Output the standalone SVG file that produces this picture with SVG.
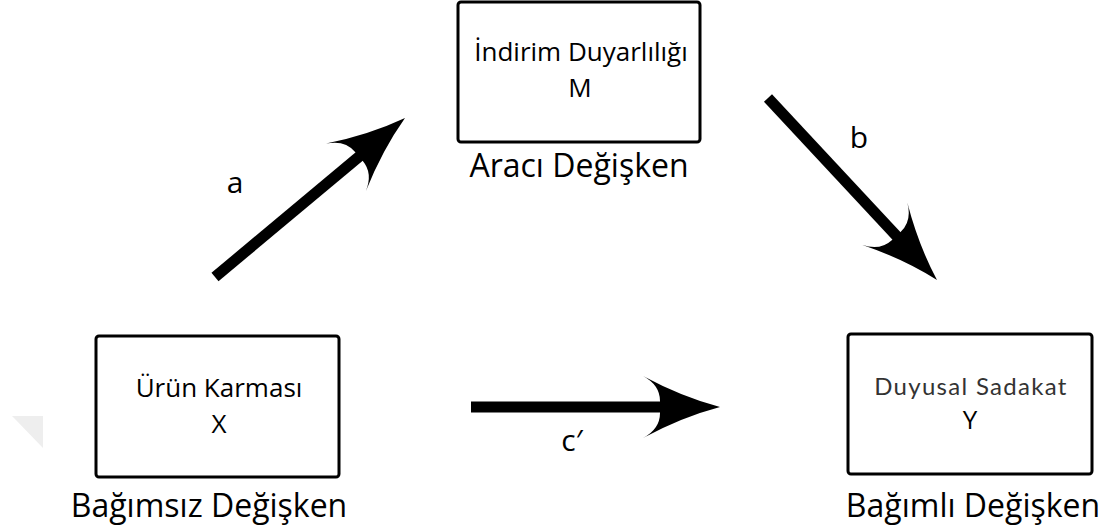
<svg xmlns="http://www.w3.org/2000/svg" width="1110" height="530" viewBox="0 0 1110 530">
  <style>
    .box { fill: #ffffff; stroke: #000000; stroke-width: 3; }
    .lbl { font-family: "Open Sans", "Noto Sans", "DejaVu Sans", sans-serif; fill: #000000; text-anchor: middle; }
    .inner { font-size: 26px; }
    .role { font-size: 32px; }
    .path-lbl { font-size: 30px; }
    .soft { font-family: Lato, "Noto Sans", sans-serif; font-size: 24px; fill: #333333; text-anchor: middle; letter-spacing: 1.3px; }
    .shaft { stroke: #000000; stroke-width: 11; fill: none; }
  </style>
  <defs>
    <!-- swept arrowhead, tip at origin pointing along +x -->
    <path id="head" d="M0,0 Q-38,-10 -77,-31 Q-60,-22 -60,-6 L-60,6 Q-60,22 -77,31 Q-38,10 0,0 Z" fill="#000000"/>
  </defs>

  <rect width="1110" height="530" fill="#ffffff"/>
  <polygon points="12,416 43,416 43,448" fill="#eeeeee"/>

  <g id="mediator">
    <rect class="box" x="458" y="2" width="242" height="140" rx="3"/>
    <text class="lbl inner" x="581" y="61">İndirim Duyarlılığı</text>
    <text class="lbl inner" x="580" y="97">M</text>
    <text class="lbl role" x="579" y="177">Aracı Değişken</text>
  </g>

  <g id="independent">
    <rect class="box" x="96" y="336" width="243" height="141" rx="3"/>
    <text class="lbl inner" x="219" y="397">Ürün Karması</text>
    <text class="lbl inner" x="219" y="433">X</text>
    <text class="lbl role" x="209" y="517">Bağımsız Değişken</text>
  </g>

  <g id="dependent">
    <rect class="box" x="848" y="334" width="244" height="140" rx="3"/>
    <text class="soft" x="971" y="395">Duyusal Sadakat</text>
    <text class="lbl inner" x="970" y="429">Y</text>
    <text class="lbl role" x="973" y="517">Bağımlı Değişken</text>
  </g>

  <g id="connectors">
    <line class="shaft" x1="215" y1="277" x2="367" y2="150"/>
    <use href="#head" transform="translate(405,118) rotate(-39.9)"/>
    <text class="lbl path-lbl" x="235" y="193">a</text>

    <line class="shaft" x1="768" y1="98" x2="904" y2="244"/>
    <use href="#head" transform="translate(937,280) rotate(47.1)"/>
    <text class="lbl path-lbl" x="859" y="148">b</text>

    <line class="shaft" x1="471" y1="407" x2="665" y2="407"/>
    <use href="#head" transform="translate(720,407)"/>
    <text class="lbl path-lbl" x="572" y="451">c′</text>
  </g>
</svg>
